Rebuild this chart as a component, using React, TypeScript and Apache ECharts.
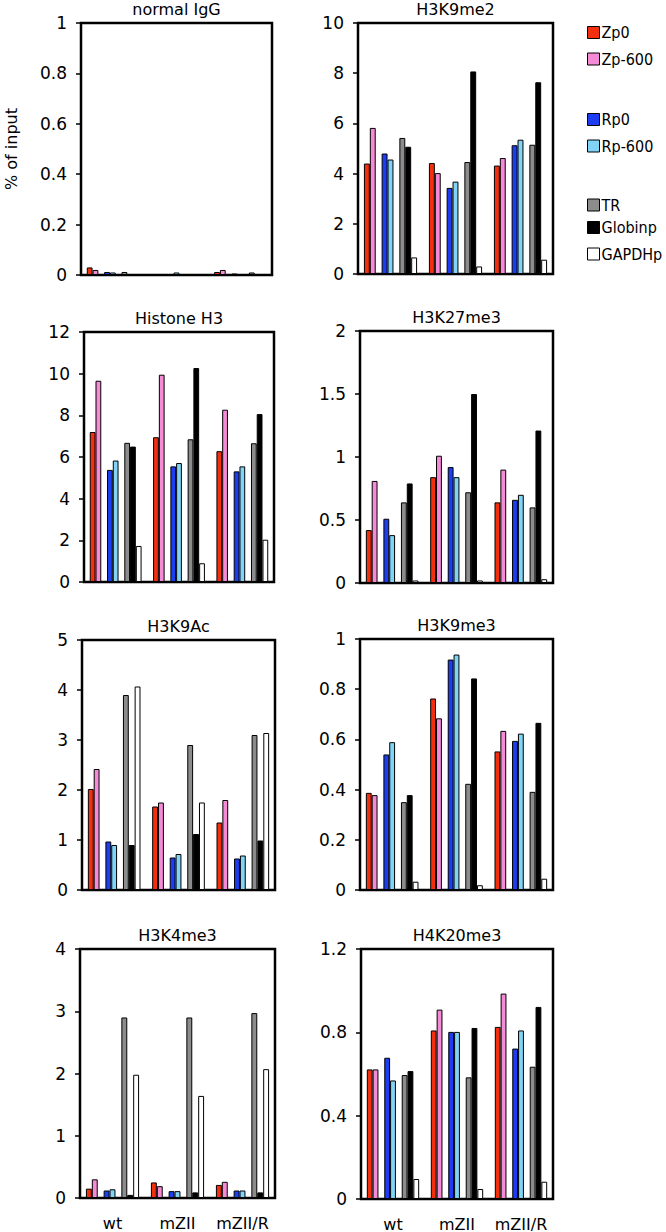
import React, { useEffect, useRef } from 'react';
import * as echarts from 'echarts';

const groups = ['wt', 'mZII', 'mZII/R'];
const seriesNames = ['Zp0', 'Zp-600', 'Rp0', 'Rp-600', 'TR', 'Globinp', 'GAPDHp'];
const seriesColors = ['#f2300f', '#f58ad6', '#1c3ef0', '#80d4f6', '#8c8c8c', '#000000', '#ffffff'];
const panelTitles = ['normal IgG', 'H3K9me2', 'Histone H3', 'H3K27me3', 'H3K9Ac', 'H3K9me3', 'H3K4me3', 'H4K20me3'];
const yMax = [1, 10, 12, 2, 5, 1, 4, 1.2];
const yStep = [0.2, 2, 2, 0.5, 1, 0.2, 1, 0.4];

// rows: Zp0, Zp-600, Rp0, Rp-600, TR, Globinp, GAPDHp ; columns: wt, mZII, mZII/R
const normalIgG = [
  [0.03, 0.001, 0.012],
  [0.02, 0.001, 0.02],
  [0.012, 0.002, 0.006],
  [0.01, 0.01, 0.004],
  [0.012, 0.004, 0.01],
  [0.002, 0.004, 0.002],
  [0.002, 0.003, 0.002],
];
const h3k9me2 = [
  [4.4, 4.42, 4.32],
  [5.82, 4.02, 4.62],
  [4.8, 3.43, 5.13],
  [4.56, 3.68, 5.35],
  [5.42, 4.46, 5.15],
  [5.07, 8.07, 7.64],
  [0.66, 0.3, 0.57],
];
const histoneH3 = [
  [7.2, 6.95, 6.28],
  [9.66, 9.95, 8.27],
  [5.38, 5.55, 5.31],
  [5.83, 5.71, 5.55],
  [6.68, 6.85, 6.66],
  [6.5, 10.27, 8.06],
  [1.73, 0.9, 2.03],
];
const h3k27me3 = [
  [0.42, 0.84, 0.64],
  [0.81, 1.01, 0.9],
  [0.51, 0.92, 0.66],
  [0.38, 0.84, 0.7],
  [0.64, 0.72, 0.6],
  [0.79, 1.5, 1.21],
  [0.02, 0.02, 0.03],
];
const h3k9ac = [
  [2.02, 1.67, 1.35],
  [2.42, 1.75, 1.8],
  [0.97, 0.65, 0.63],
  [0.9, 0.72, 0.69],
  [3.9, 2.9, 3.1],
  [0.9, 1.12, 0.99],
  [4.07, 1.75, 3.14],
];
const h3k9me3 = [
  [0.387, 0.763, 0.552],
  [0.378, 0.684, 0.634],
  [0.54, 0.918, 0.594],
  [0.589, 0.938, 0.623],
  [0.35, 0.423, 0.391],
  [0.378, 0.843, 0.666],
  [0.033, 0.019, 0.045],
];
const h3k4me3 = [
  [0.15, 0.25, 0.21],
  [0.3, 0.19, 0.26],
  [0.12, 0.11, 0.12],
  [0.14, 0.11, 0.12],
  [2.9, 2.9, 2.97],
  [0.05, 0.09, 0.09],
  [1.98, 1.64, 2.07],
];
const h4k20me3 = [
  [0.622, 0.809, 0.826],
  [0.622, 0.909, 0.986],
  [0.678, 0.802, 0.722],
  [0.569, 0.802, 0.809],
  [0.595, 0.584, 0.635],
  [0.614, 0.821, 0.922],
  [0.096, 0.048, 0.083],
];

const panelData = [normalIgG, h3k9me2, histoneH3, h3k27me3, h3k9ac, h3k9me3, h3k4me3, h4k20me3];

// layout
const panelRects = [
  { left: 81, top: 23, width: 191, height: 252 },
  { left: 358, top: 23, width: 195, height: 251 },
  { left: 84, top: 332, width: 190, height: 250 },
  { left: 360, top: 331, width: 193, height: 252 },
  { left: 82, top: 640, width: 193, height: 250 },
  { left: 360, top: 639, width: 193, height: 251 },
  { left: 80, top: 949, width: 195, height: 249 },
  { left: 361, top: 949, width: 192, height: 251 },
];
const slotOffsets = [1, 2, 4, 5, 7, 8, 9];
const slotsPerGroup = 11;
const FONT = 'DejaVu Sans';
const LEGEND_FONT = '"DejaVu Sans Condensed", "DejaVu Sans"';

export default function App() {
  const ref = useRef<HTMLDivElement>(null);
  useEffect(() => {
    document.body.style.margin = '0';
    const chart = echarts.init(ref.current!, null, { renderer: 'svg' });
    const nSlots = groups.length * slotsPerGroup;
    const cats = Array.from({ length: nSlots }, (_, i) => 's' + i);

    const grid = panelRects.map((r) => ({
      left: r.left,
      top: r.top,
      width: r.width,
      height: r.height,
      show: true,
      borderColor: '#000',
      borderWidth: 2.5,
      backgroundColor: 'transparent',
      containLabel: false,
    }));

    const xAxis = panelRects.map((_, p) => ({
      type: 'category',
      gridIndex: p,
      data: cats,
      axisLine: { show: false },
      axisTick: { show: false },
      axisLabel: {
        show: p >= 6,
        interval: 0,
        margin: 17,
        color: '#000',
        fontSize: 16,
        fontFamily: FONT,
        formatter: (_v: string, idx: number) =>
          idx % slotsPerGroup === 5 ? groups[Math.floor(idx / slotsPerGroup)] : '',
      },
    }));

    const yAxis = panelRects.map((_, p) => ({
      type: 'value',
      gridIndex: p,
      min: 0,
      max: yMax[p],
      interval: yStep[p],
      axisLine: { show: false },
      axisTick: { show: true, length: 5, lineStyle: { color: '#000', width: 1.5 } },
      splitLine: { show: false },
      axisLabel: { color: '#000', fontSize: 17, fontFamily: FONT, margin: 14 },
      name: p === 0 ? '% of input' : '',
      nameLocation: 'middle',
      nameRotate: 90,
      nameGap: 62,
      nameTextStyle: { color: '#000', fontSize: 16, fontFamily: FONT },
    }));

    const series: any[] = [];
    panelData.forEach((pd, p) => {
      seriesNames.forEach((name, s) => {
        const data: (number | null)[] = new Array(nSlots).fill(null);
        groups.forEach((_, g) => {
          data[g * slotsPerGroup + slotOffsets[s]] = pd[s][g];
        });
        series.push({
          type: 'bar',
          name,
          xAxisIndex: p,
          yAxisIndex: p,
          data,
          barWidth: '100%',
          barGap: '-100%',
          barCategoryGap: '0%',
          itemStyle: { color: seriesColors[s], borderColor: '#000', borderWidth: 1 },
        });
      });
    });

    const legendGroups = [
      { names: ['Zp0', 'Zp-600'], top: 24.5 },
      { names: ['Rp0', 'Rp-600'], top: 111.5 },
      { names: ['TR'], top: 197 },
      { names: ['Globinp', 'GAPDHp'], top: 219.5 },
    ];
    const legend = legendGroups.map((lg) => ({
      data: lg.names,
      orient: 'vertical',
      left: 587,
      top: lg.top,
      padding: 0,
      itemWidth: 12,
      itemHeight: 12,
      itemGap: 10.5,
      icon: 'rect',
      selectedMode: false,
      itemStyle: { borderColor: '#000', borderWidth: 1 },
      textStyle: { color: '#000', fontSize: 16, fontFamily: LEGEND_FONT, padding: [0, 0, 0, -3] },
    }));

    const graphic = panelRects.map((r, p) => ({
      type: 'text',
      x: r.left + r.width / 2,
      y: r.top - 14,
      style: {
        text: panelTitles[p],
        fill: '#000',
        font: `16px "${FONT}"`,
        textAlign: 'center',
        textVerticalAlign: 'middle',
      },
    }));

    chart.setOption({
      animation: false,
      backgroundColor: '#fff',
      grid,
      xAxis,
      yAxis,
      series,
      legend,
      graphic,
    });
    return () => chart.dispose();
  }, []);
  return <div ref={ref} style={{ width: 666, height: 1232 }} />;
}
